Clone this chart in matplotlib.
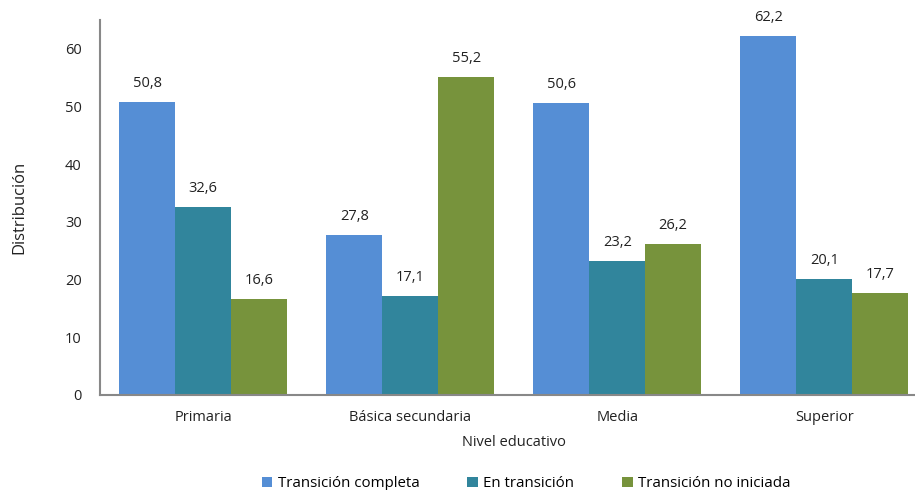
import matplotlib
matplotlib.use("Agg")
import matplotlib.pyplot as plt
import numpy as np

plt.rcParams['font.family'] = ['Open Sans', 'DejaVu Sans']

categories = ["Primaria", "Básica secundaria", "Media", "Superior"]
series_names = ["Transición completa", "En transición", "Transición no iniciada"]
completa = [50.8, 27.8, 50.6, 62.2]
en_transicion = [32.6, 17.1, 23.2, 20.1]
no_iniciada = [16.6, 55.2, 26.2, 17.7]
colors = ["#558ED5", "#31859C", "#77933C"]

fig = plt.figure(figsize=(9.15, 4.9), dpi=100)
ax = fig.add_axes([0.109, 0.194, 0.905, 0.765])

x = np.arange(len(categories))
w = 0.27
handles = []
for i, (vals, name, c) in enumerate(zip([completa, en_transicion, no_iniciada], series_names, colors)):
    bars = ax.bar(x + (i - 1) * w, vals, w, color=c, label=name)
    handles.append(bars)
    for b, v in zip(bars, vals):
        ax.text(b.get_x() + b.get_width() / 2, v + 1.9, f"{v:.1f}".replace(".", ","),
                ha="center", va="bottom", fontsize=10.5, color="#222222")

ax.set_xlim(-0.5, 3.5)
ax.set_ylim(0, 65)
ax.set_yticks(range(0, 61, 10))
ax.set_xticks(x)
ax.set_xticklabels(categories)
ax.tick_params(axis="both", length=0, labelsize=10.5, colors="#222222")
ax.tick_params(axis="x", pad=11)
ax.tick_params(axis="y", pad=13)
for s in ["top", "right"]:
    ax.spines[s].set_visible(False)
for s in ["left", "bottom"]:
    ax.spines[s].set_color("#888888")
    ax.spines[s].set_linewidth(1.5)

ax.set_ylabel("Distribución", fontsize=12, color="#222222", labelpad=27)
ax.set_xlabel("Nivel educativo", fontsize=10.5, color="#222222", labelpad=7)

fig.legend(handles=handles, labels=series_names, loc="lower center",
           bbox_to_anchor=(0.575, -0.03), ncol=3, frameon=False, fontsize=10.8,
           handlelength=0.7, handleheight=0.7, handletextpad=0.35, columnspacing=3.2)

fig.savefig("out.png", dpi=100)
